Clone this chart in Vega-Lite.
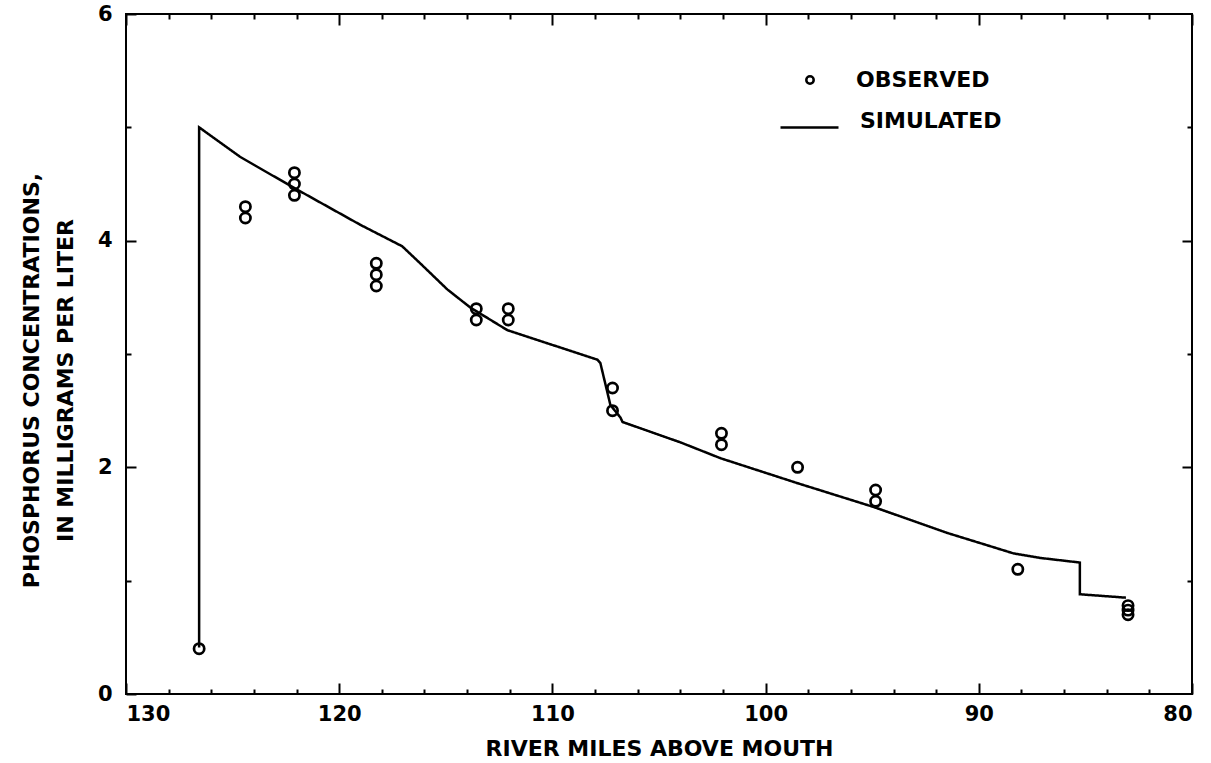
{
  "$schema": "https://vega.github.io/schema/vega-lite/v6.json",
  "autosize": "none",
  "width": 1066,
  "height": 680,
  "padding": {"left": 126, "top": 14, "right": 19, "bottom": 69},
  "background": "white",
  "config": {
    "view": {"stroke": "black", "strokeWidth": 2},
    "font": "DejaVu Sans",
    "axis": {
      "domain": false,
      "grid": false,
      "tickColor": "black",
      "tickWidth": 2,
      "labelFont": "DejaVu Sans",
      "labelFontWeight": "bold",
      "labelFontSize": 21,
      "labelColor": "black",
      "titleFont": "DejaVu Sans",
      "titleFontWeight": "bold",
      "titleFontSize": 22,
      "titleColor": "black"
    },
    "legend": {
      "labelFont": "DejaVu Sans",
      "labelFontWeight": "bold",
      "labelFontSize": 22,
      "labelColor": "black",
      "padding": 0
    }
  },
  "datasets": {
    "observed": [
      {"mile": 126.57, "conc": 0.4, "series": "OBSERVED"},
      {"mile": 124.4, "conc": 4.3, "series": "OBSERVED"},
      {"mile": 124.4, "conc": 4.2, "series": "OBSERVED"},
      {"mile": 122.1, "conc": 4.6, "series": "OBSERVED"},
      {"mile": 122.1, "conc": 4.5, "series": "OBSERVED"},
      {"mile": 122.1, "conc": 4.4, "series": "OBSERVED"},
      {"mile": 118.26, "conc": 3.8, "series": "OBSERVED"},
      {"mile": 118.26, "conc": 3.7, "series": "OBSERVED"},
      {"mile": 118.26, "conc": 3.6, "series": "OBSERVED"},
      {"mile": 113.57, "conc": 3.4, "series": "OBSERVED"},
      {"mile": 113.57, "conc": 3.3, "series": "OBSERVED"},
      {"mile": 112.07, "conc": 3.4, "series": "OBSERVED"},
      {"mile": 112.07, "conc": 3.3, "series": "OBSERVED"},
      {"mile": 107.18, "conc": 2.7, "series": "OBSERVED"},
      {"mile": 107.18, "conc": 2.5, "series": "OBSERVED"},
      {"mile": 102.07, "conc": 2.3, "series": "OBSERVED"},
      {"mile": 102.07, "conc": 2.2, "series": "OBSERVED"},
      {"mile": 98.5, "conc": 2.0, "series": "OBSERVED"},
      {"mile": 94.84, "conc": 1.8, "series": "OBSERVED"},
      {"mile": 94.84, "conc": 1.7, "series": "OBSERVED"},
      {"mile": 88.17, "conc": 1.1, "series": "OBSERVED"},
      {"mile": 83.0, "conc": 0.78, "series": "OBSERVED"},
      {"mile": 83.0, "conc": 0.74, "series": "OBSERVED"},
      {"mile": 83.0, "conc": 0.7, "series": "OBSERVED"}
    ],
    "simulated": [
      {"i": 1, "mile": 126.57, "conc": 0.41, "series": "SIMULATED"},
      {"i": 2, "mile": 126.57, "conc": 5.0, "series": "SIMULATED"},
      {"i": 3, "mile": 124.65, "conc": 4.74, "series": "SIMULATED"},
      {"i": 4, "mile": 122.16, "conc": 4.47, "series": "SIMULATED"},
      {"i": 5, "mile": 119.01, "conc": 4.14, "series": "SIMULATED"},
      {"i": 6, "mile": 117.04, "conc": 3.95, "series": "SIMULATED"},
      {"i": 7, "mile": 116.2, "conc": 3.8, "series": "SIMULATED"},
      {"i": 8, "mile": 114.93, "conc": 3.57, "series": "SIMULATED"},
      {"i": 9, "mile": 113.85, "conc": 3.41, "series": "SIMULATED"},
      {"i": 10, "mile": 112.11, "conc": 3.21, "series": "SIMULATED"},
      {"i": 11, "mile": 107.89, "conc": 2.95, "series": "SIMULATED"},
      {"i": 12, "mile": 107.75, "conc": 2.92, "series": "SIMULATED"},
      {"i": 13, "mile": 107.28, "conc": 2.55, "series": "SIMULATED"},
      {"i": 14, "mile": 106.81, "conc": 2.44, "series": "SIMULATED"},
      {"i": 15, "mile": 106.71, "conc": 2.4, "series": "SIMULATED"},
      {"i": 16, "mile": 103.99, "conc": 2.22, "series": "SIMULATED"},
      {"i": 17, "mile": 102.11, "conc": 2.08, "series": "SIMULATED"},
      {"i": 18, "mile": 98.5, "conc": 1.86, "series": "SIMULATED"},
      {"i": 19, "mile": 94.93, "conc": 1.65, "series": "SIMULATED"},
      {"i": 20, "mile": 91.46, "conc": 1.42, "series": "SIMULATED"},
      {"i": 21, "mile": 88.36, "conc": 1.24, "series": "SIMULATED"},
      {"i": 22, "mile": 87.09, "conc": 1.2, "series": "SIMULATED"},
      {"i": 23, "mile": 85.26, "conc": 1.16, "series": "SIMULATED"},
      {"i": 24, "mile": 85.26, "conc": 0.88, "series": "SIMULATED"},
      {"i": 25, "mile": 83.1, "conc": 0.85, "series": "SIMULATED"}
    ]
  },
  "resolve": {
    "scale": {"x": "shared", "y": "shared"},
    "axis": {"x": "independent", "y": "independent"}
  },
  "layer": [
    {
      "data": {"name": "observed"},
      "mark": {"type": "point", "opacity": 0},
      "encoding": {
        "x": {"field": "mile", "type": "quantitative",
              "scale": {"domain": [80, 130], "reverse": true, "nice": false, "zero": false},
              "axis": {"orient": "bottom", "values": [128, 126, 124, 122, 118, 116, 114, 112, 108, 106, 104, 102, 98, 96, 94, 92, 88, 86, 84, 82], "tickSize": -5, "labels": false, "title": null}},
        "y": {"field": "conc", "type": "quantitative",
              "scale": {"domain": [0, 6], "nice": false, "zero": false},
              "axis": {"orient": "left", "values": [1, 3, 5], "tickSize": -5, "labels": false, "title": null}}
      }
    },
    {
      "data": {"name": "observed"},
      "mark": {"type": "point", "opacity": 0},
      "encoding": {
        "x": {"field": "mile", "type": "quantitative",
              "axis": {"orient": "top", "values": [128, 126, 124, 122, 118, 116, 114, 112, 108, 106, 104, 102, 98, 96, 94, 92, 88, 86, 84, 82], "tickSize": -5, "labels": false, "title": null}},
        "y": {"field": "conc", "type": "quantitative",
              "axis": {"orient": "right", "values": [1, 3, 5], "tickSize": -5, "labels": false, "title": null}}
      }
    },
    {
      "data": {"name": "simulated"},
      "mark": {"type": "line", "color": "black", "strokeWidth": 2.5},
      "encoding": {
        "x": {"field": "mile", "type": "quantitative",
              "axis": {"orient": "top", "values": [130, 120, 110, 100, 90, 80], "tickSize": -11, "labels": false, "title": null}},
        "y": {"field": "conc", "type": "quantitative",
              "axis": {"orient": "right", "values": [2, 4], "tickSize": -10, "labels": false, "title": null}},
        "order": {"field": "i", "type": "quantitative"},
        "strokeDash": {"field": "series", "type": "nominal",
                       "scale": {"domain": ["SIMULATED"], "range": [[1, 0]]},
                       "legend": {"title": null, "orient": "none", "legendX": 653, "legendY": 83,
                                  "symbolType": "stroke", "symbolSize": 3364, "symbolStrokeColor": "black",
                                  "symbolStrokeWidth": 2.5, "labelOffset": 20, "labelBaseline": "alphabetic"}}
      }
    },
    {
      "data": {"name": "observed"},
      "mark": {"type": "point", "shape": "circle", "filled": false, "color": "black", "strokeWidth": 2.7, "size": 105, "opacity": 1},
      "encoding": {
        "x": {"field": "mile", "type": "quantitative",
              "axis": {"orient": "bottom", "values": [130, 120, 110, 100, 90, 80], "tickSize": -11, "labelPadding": 20,
                       "title": "RIVER MILES ABOVE MOUTH", "titlePadding": 14}},
        "y": {"field": "conc", "type": "quantitative",
              "axis": {"orient": "left", "values": [0, 2, 4, 6], "tickSize": -10, "labelPadding": 24,
                       "title": ["PHOSPHORUS CONCENTRATIONS,", "IN MILLIGRAMS PER LITER"], "titlePadding": 20, "titleLineHeight": 34, "titleY": 366}},
        "shape": {"field": "series", "type": "nominal",
                  "scale": {"domain": ["OBSERVED"], "range": ["circle"]},
                  "legend": {"title": null, "orient": "none", "legendX": 673, "legendY": 55,
                             "symbolSize": 55, "symbolStrokeColor": "black", "symbolFillColor": "white",
                             "symbolStrokeWidth": 2.5, "labelOffset": 35}}
      }
    }
  ]
}
